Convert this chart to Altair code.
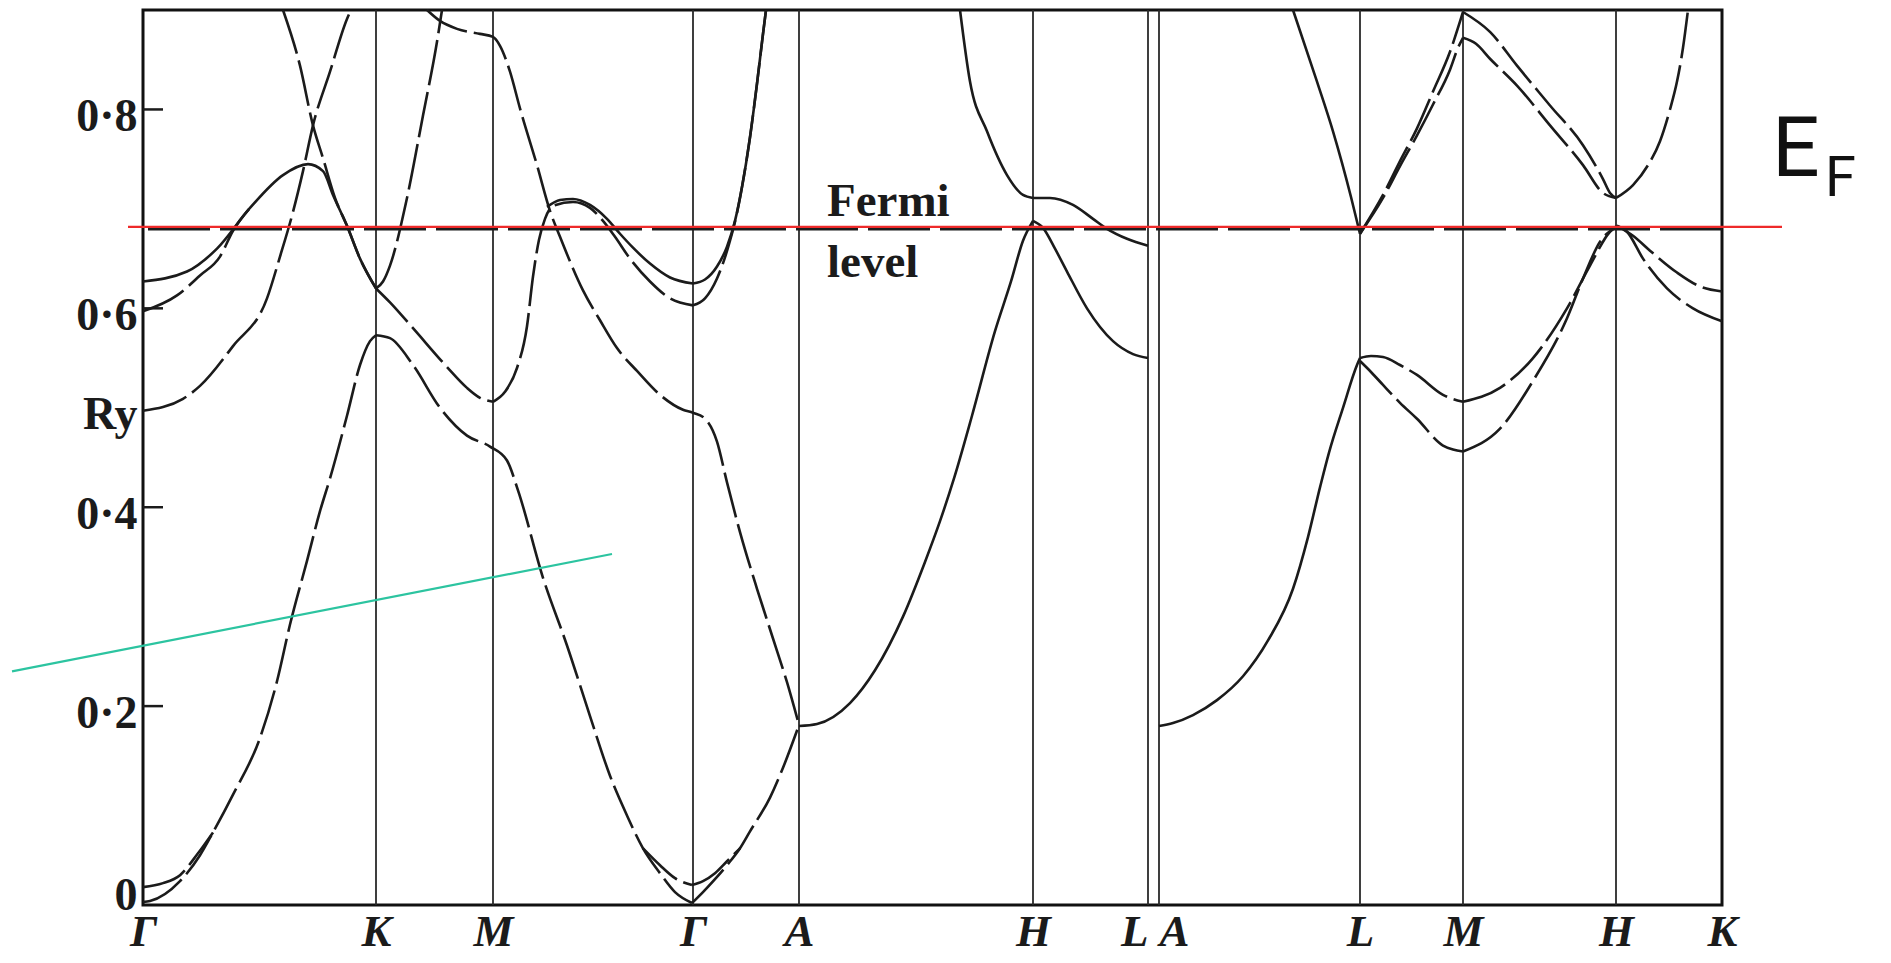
import altair as alt
import pandas as pd

INK = "#1b1b1b"

# ---- symmetry points along the k-path (path-length units) ----
SYM_NAMES = ["Γ", "K", "M", "Γ", "A", "H", "L", "A", "L", "M", "H", "K"]
SYM_K = [0, 233, 350, 550, 656, 890, 1005, 1016, 1217, 1320, 1473, 1579]
INNER_K = [233, 350, 550, 656, 890, 1005, 1016, 1217, 1320, 1473]

# ---- energy axis (Ry) ----
Y_TICKS = [0.2, 0.4, 0.6, 0.8]
Y_LABEL_VALUES = [0, 0.2, 0.4, 0.5, 0.6, 0.8]
Y_LABEL_TEXT = ["0", "0·2", "0·4", "Ry", "0·6", "0·8"]

FERMI_E = 0.6795         # dashed Fermi level of the original figure
RED_K = [-15, 1639]
RED_E = [0.682, 0.682]
GREEN_K = [-131, 469]
GREEN_E = [0.235, 0.353]

# ---- bands: (k, E) ----
# Γ–K
b01_k = [0, 44, 74, 107, 140, 165, 180, 190, 204, 217, 233]
b01_e = [0.627, 0.637, 0.660, 0.701, 0.734, 0.745, 0.738, 0.714, 0.683, 0.650, 0.620]
b02_k = [0, 34, 57, 77, 90, 107]
b02_e = [0.597, 0.613, 0.633, 0.652, 0.678, 0.701]
b03_k = [0, 40, 57, 90, 124, 137, 150, 160, 170, 187, 204, 208]
b03_e = [0.497, 0.509, 0.522, 0.562, 0.610, 0.652, 0.697, 0.738, 0.784, 0.838, 0.891, 0.9]
b04_k = [140, 157, 170, 180, 192, 204, 217, 233]
b04_e = [0.9, 0.844, 0.784, 0.751, 0.711, 0.683, 0.650, 0.620]
b05_k = [0, 7, 37, 57, 70, 90, 117, 134, 147, 164, 177, 187, 204, 217, 227, 233]
b05_e = [0.003, 0.004, 0.024, 0.050, 0.073, 0.111, 0.168, 0.225, 0.282, 0.346, 0.396, 0.429, 0.492, 0.543, 0.567, 0.573]
b06_k = [0, 20, 37, 55, 70]
b06_e = [0.018, 0.022, 0.030, 0.052, 0.073]
# K–M
b07_k = [233, 247, 270, 304, 324, 337, 350]
b07_e = [0.620, 0.606, 0.580, 0.541, 0.520, 0.510, 0.506]
b08_k = [233, 240, 247, 264, 280, 294, 299]
b08_e = [0.620, 0.627, 0.643, 0.711, 0.794, 0.868, 0.9]
b09_k = [233, 247, 270, 297, 324, 347, 364, 375, 400, 424, 447, 467, 484, 500, 517, 532, 549]
b09_e = [0.573, 0.570, 0.543, 0.500, 0.472, 0.461, 0.447, 0.417, 0.329, 0.261, 0.190, 0.130, 0.090, 0.057, 0.032, 0.013, 0.002]
b10_k = [500, 517, 532, 549]
b10_e = [0.057, 0.040, 0.027, 0.020]
b11_k = [284, 297, 314, 337, 350, 357, 367, 377, 394, 407, 417, 440, 457, 474, 494, 517, 540, 550,
         562, 574, 584, 597, 614, 630, 644, 656]
b11_e = [0.9, 0.889, 0.881, 0.876, 0.873, 0.864, 0.838, 0.801, 0.744, 0.698, 0.672, 0.618, 0.588, 0.560,
         0.537, 0.513, 0.498, 0.495, 0.489, 0.466, 0.425, 0.375, 0.318, 0.268, 0.224, 0.181]
# M–Γ
b12_k = [350, 362, 374, 384, 390, 396, 402, 410, 430, 447, 460, 472, 487, 507, 527, 550]
b12_e = [0.506, 0.516, 0.540, 0.582, 0.632, 0.669, 0.690, 0.703, 0.707, 0.701, 0.688, 0.672, 0.650, 0.627, 0.610, 0.603]
b13_k = [404, 417, 430, 447, 464, 477, 490, 507, 527, 550]
b13_e = [0.702, 0.709, 0.710, 0.704, 0.690, 0.675, 0.661, 0.645, 0.631, 0.625]
# Γ–A
b14_k = [550, 562, 574, 584, 592, 599, 607, 614, 620, 623]
b14_e = [0.625, 0.629, 0.642, 0.662, 0.688, 0.722, 0.772, 0.826, 0.876, 0.9]
b15_k = [550, 562, 574, 587, 594, 599, 607, 614, 620, 623]
b15_e = [0.603, 0.610, 0.630, 0.668, 0.696, 0.722, 0.772, 0.826, 0.876, 0.9]
b16_k = [549, 560, 572, 584, 597, 607, 627, 640, 656]
b16_e = [0.002, 0.013, 0.026, 0.040, 0.057, 0.074, 0.108, 0.138, 0.181]
b17_k = [549, 560, 572, 584, 597]
b17_e = [0.020, 0.024, 0.032, 0.044, 0.057]
# A–H–L
b18_k = [656, 674, 707, 732, 760, 782, 797, 811, 829, 852, 868, 880, 890]
b18_e = [0.180, 0.182, 0.203, 0.236, 0.290, 0.345, 0.386, 0.429, 0.492, 0.577, 0.627, 0.668, 0.688]
b19_k = [817, 827, 844, 864, 880, 890]
b19_e = [0.9, 0.828, 0.778, 0.734, 0.714, 0.711]
b20_k = [890, 907, 930, 950, 964, 984, 1005]
b20_e = [0.711, 0.711, 0.704, 0.690, 0.680, 0.670, 0.663]
b21_k = [890, 900, 912, 924, 944, 970, 990, 1005]
b21_e = [0.688, 0.681, 0.660, 0.637, 0.600, 0.567, 0.554, 0.550]
# A–L (second block)
b22_k = [1016, 1030, 1050, 1074, 1100, 1125, 1150, 1165, 1177, 1186, 1200, 1214, 1217]
b22_e = [0.180, 0.183, 0.191, 0.206, 0.230, 0.266, 0.318, 0.370, 0.420, 0.455, 0.500, 0.543, 0.550]
b23_k = [1150, 1174, 1190, 1208, 1217]
b23_e = [0.9, 0.828, 0.778, 0.712, 0.675]
# L–M
b24_k = [1217, 1240, 1257, 1274, 1290, 1307, 1320]
b24_e = [0.675, 0.714, 0.748, 0.781, 0.818, 0.858, 0.898]
b25_k = [1217, 1240, 1257, 1274, 1290, 1307, 1315, 1320]
b25_e = [0.675, 0.711, 0.743, 0.774, 0.805, 0.840, 0.862, 0.872]
b26_k = [1217, 1228, 1240, 1257, 1274, 1300, 1320]
b26_e = [0.550, 0.552, 0.551, 0.543, 0.533, 0.513, 0.506]
b27_k = [1217, 1228, 1240, 1257, 1274, 1300, 1310, 1320]
b27_e = [0.547, 0.536, 0.523, 0.505, 0.489, 0.462, 0.458, 0.456]
# M–H
b28_k = [1320, 1347, 1374, 1407, 1440, 1460, 1467, 1473]
b28_e = [0.898, 0.878, 0.844, 0.804, 0.764, 0.730, 0.716, 0.711]
b29_k = [1320, 1333, 1347, 1374, 1407, 1440, 1460, 1473]
b29_e = [0.872, 0.866, 0.851, 0.824, 0.784, 0.744, 0.716, 0.711]
b30_k = [1473, 1490, 1505, 1517, 1527, 1534, 1540, 1545]
b30_e = [0.711, 0.724, 0.744, 0.768, 0.800, 0.828, 0.862, 0.9]
b31_k = [1320, 1357, 1390, 1424, 1447, 1467, 1474]
b31_e = [0.506, 0.520, 0.550, 0.600, 0.643, 0.677, 0.683]
b32_k = [1320, 1357, 1390, 1424, 1440, 1457, 1474]
b32_e = [0.456, 0.479, 0.527, 0.590, 0.630, 0.667, 0.682]
# H–K
b33_k = [1474, 1490, 1507, 1534, 1557, 1579]
b33_e = [0.683, 0.673, 0.658, 0.636, 0.622, 0.617]
b34_k = [1474, 1484, 1500, 1524, 1550, 1579]
b34_e = [0.683, 0.677, 0.650, 0.620, 0.600, 0.587]

BANDS = [
    ("b01", b01_k, b01_e, "solid"), ("b02", b02_k, b02_e, "dash"),
    ("b03", b03_k, b03_e, "dash"), ("b04", b04_k, b04_e, "dash"),
    ("b05", b05_k, b05_e, "dash"), ("b06", b06_k, b06_e, "dash"),
    ("b07", b07_k, b07_e, "dash"), ("b08", b08_k, b08_e, "dash"),
    ("b09", b09_k, b09_e, "dash"), ("b10", b10_k, b10_e, "dash"),
    ("b11", b11_k, b11_e, "dash"), ("b12", b12_k, b12_e, "dash"),
    ("b13", b13_k, b13_e, "solid"), ("b14", b14_k, b14_e, "solid"),
    ("b15", b15_k, b15_e, "dash"), ("b16", b16_k, b16_e, "dash"),
    ("b17", b17_k, b17_e, "dash"), ("b18", b18_k, b18_e, "solid"),
    ("b19", b19_k, b19_e, "solid"), ("b20", b20_k, b20_e, "solid"),
    ("b21", b21_k, b21_e, "solid"), ("b22", b22_k, b22_e, "solid"),
    ("b23", b23_k, b23_e, "solid"), ("b24", b24_k, b24_e, "dash"),
    ("b25", b25_k, b25_e, "dash"), ("b26", b26_k, b26_e, "dash"),
    ("b27", b27_k, b27_e, "dash"), ("b28", b28_k, b28_e, "dash"),
    ("b29", b29_k, b29_e, "dash"), ("b30", b30_k, b30_e, "dash"),
    ("b31", b31_k, b31_e, "dash"), ("b32", b32_k, b32_e, "dash"),
    ("b33", b33_k, b33_e, "dash"), ("b34", b34_k, b34_e, "dash"),
]

rows = []
for name, ks, es, style in BANDS:
    for k, e in zip(ks, es):
        rows.append({"band": name, "k": k, "E": e, "style": style})
band_df = pd.DataFrame(rows)


def label_expr(values, labels):
    expr = "''"
    for v, lab in reversed(list(zip(values, labels))):
        expr = f"datum.value == {v} ? '{lab}' : {expr}"
    return expr


x_axis = alt.Axis(
    values=SYM_K, labelExpr=label_expr(SYM_K, SYM_NAMES), title=None, grid=False,
    ticks=False, tickSize=0, domain=False, labelFont="Liberation Serif", labelFontSize=45,
    labelFontStyle="italic", labelFontWeight="bold", labelColor=INK, labelPadding=4,
    labelOverlap=False, labelFlush=False,
    labelAlign={"condition": [{"test": "datum.value == 1005", "value": "right"},
                              {"test": "datum.value == 1016", "value": "left"}],
                "value": "center"},
)
y_axis = alt.Axis(
    values=Y_LABEL_VALUES, labelExpr=label_expr(Y_LABEL_VALUES, Y_LABEL_TEXT), title=None,
    grid=False, ticks=False, tickSize=0, domain=False, labelFont="Liberation Serif",
    labelFontSize=46, labelFontWeight="bold", labelColor=INK, labelPadding=6,
    labelOverlap=False, labelFlush=False,
    labelOffset={"condition": {"test": "datum.value == 0", "value": -10}, "value": 7},
)

XS = alt.Scale(domain=[0, 1579], nice=False, zero=False)
YS = alt.Scale(domain=[0, 0.9], nice=False, zero=False)


def xenc(f="k"):
    return alt.X(f"{f}:Q", scale=XS, axis=x_axis)


def yenc(f="E"):
    return alt.Y(f"{f}:Q", scale=YS, axis=y_axis)


sym_lines = alt.Chart(pd.DataFrame({"k": INNER_K})).mark_rule(
    color="#2a2a2a", strokeWidth=1.8).encode(x=xenc())

tick_df = pd.DataFrame({"E": Y_TICKS, "k0": [0] * len(Y_TICKS), "k1": [20] * len(Y_TICKS)})
yticks = alt.Chart(tick_df).mark_rule(color=INK, strokeWidth=2.5).encode(
    x=xenc("k0"), x2="k1:Q", y=yenc())

fermi = alt.Chart(pd.DataFrame({"E": [FERMI_E]})).mark_rule(
    color=INK, strokeWidth=2.6, strokeDash=[62, 10]).encode(y=yenc())

solid = alt.Chart(band_df).transform_filter(alt.datum.style == "solid").mark_line(
    interpolate="monotone", strokeWidth=2.6, color=INK).encode(
    x=xenc(), y=yenc(), detail="band:N")
dashed = alt.Chart(band_df).transform_filter(alt.datum.style == "dash").mark_line(
    interpolate="monotone", strokeWidth=2.6, color=INK, strokeDash=[46, 7]).encode(
    x=xenc(), y=yenc(), detail="band:N")

red = alt.Chart(pd.DataFrame({"k": RED_K, "E": RED_E})).mark_line(
    color="#ee2a2a", strokeWidth=2.2).encode(x=xenc(), y=yenc())
green = alt.Chart(pd.DataFrame({"k": GREEN_K, "E": GREEN_E})).mark_line(
    color="#2cc4a0", strokeWidth=2.2).encode(x=xenc(), y=yenc())

fermi_text = alt.Chart(pd.DataFrame({"k": [684, 684], "E": [0.6925, 0.632],
                                     "t": ["Fermi", "level"]})).mark_text(
    align="left", baseline="alphabetic", font="Liberation Serif", fontSize=47,
    fontWeight="bold", color=INK).encode(x=xenc(), y=yenc(), text="t:N")

ef_big = alt.Chart(pd.DataFrame({"k": [1629], "E": [0.733], "t": ["E"]})).mark_text(
    align="left", baseline="alphabetic", font="Roboto", fontSize=84, color="#111").encode(
    x=xenc(), y=yenc(), text="t:N")
ef_sub = alt.Chart(pd.DataFrame({"k": [1682], "E": [0.7126], "t": ["F"]})).mark_text(
    align="left", baseline="alphabetic", font="Roboto", fontSize=56, color="#111").encode(
    x=xenc(), y=yenc(), text="t:N")

chart = alt.layer(
    sym_lines, yticks, fermi, dashed, solid, red, green, fermi_text, ef_big, ef_sub
).properties(
    width=1579, height=895,
    padding={"left": 135, "top": 2, "right": 160, "bottom": 50},
    autosize=alt.AutoSizeParams(type="none"),
    background="white",
).configure_view(stroke="#111", strokeWidth=3)

chart.save("out.html", embed_options={"renderer": "svg", "actions": False})
